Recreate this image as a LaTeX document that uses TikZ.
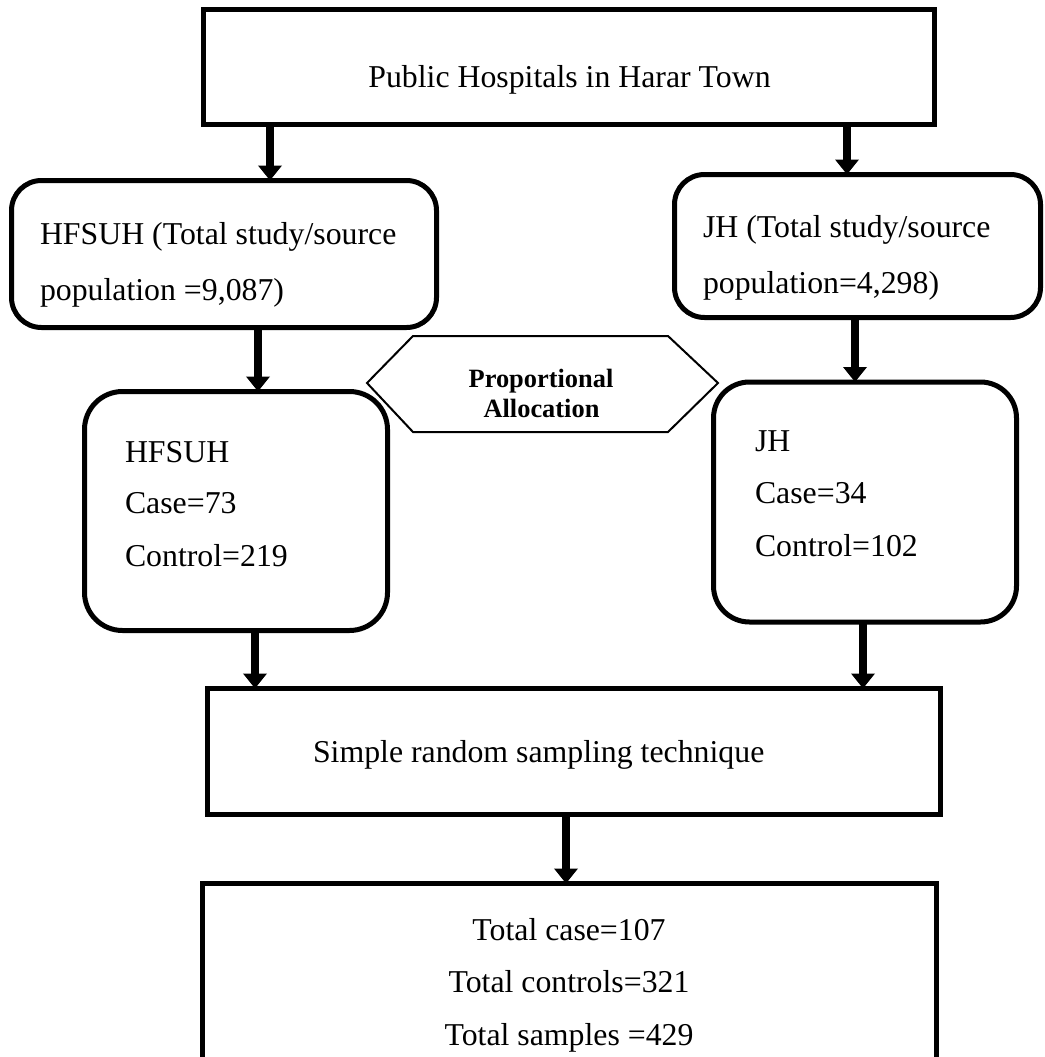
\documentclass[tikz,border=0pt]{standalone}
\usepackage{fontspec}
\setmainfont{Liberation Serif}
\usetikzlibrary{arrows.meta}
\begin{document}
\begin{tikzpicture}[x=1pt,y=-1pt,
  box/.style={draw=black, line width=5pt, inner sep=0pt, outer sep=0pt},
  rbox/.style={box, rounded corners=#1},
  txt/.style={inner sep=0pt, outer sep=0pt, font=\fontsize{31.8}{38}\selectfont},
  btxt/.style={inner sep=0pt, outer sep=0pt, font=\fontsize{26.4}{32}\selectfont\bfseries},
  arr/.style={line width=8pt, -{Triangle[width=23pt,length=15pt]}}]
\useasboundingbox (0,0) rectangle (1044,1057);
\clip (0,0) rectangle (1044,1057);
\fill[white] (0,0) rectangle (1044,1057);

% boxes
\node[box, minimum width=731pt, minimum height=115pt] (top) at (569,67) {};
\node[rbox=30pt, minimum width=425pt, minimum height=147pt] (hpop) at (224,254) {};
\node[rbox=30pt, minimum width=366pt, minimum height=143pt] (jpop) at (857.5,246) {};
\node[rbox=38pt, minimum width=303pt, minimum height=239pt] (hcase) at (236,511) {};
\node[rbox=36pt, minimum width=303pt, minimum height=240pt] (jcase) at (865,502) {};
\node[box, minimum width=733pt, minimum height=126pt] (simple) at (574,751.5) {};
\node[box, minimum width=734pt, minimum height=264pt] (total) at (569.5,1015.5) {};

% hexagon
\draw[line width=2pt, line join=miter] (367,383) -- (413,336) -- (668,336) -- (718,383) -- (668,432) -- (413,432) -- cycle;
\node[btxt, anchor=base] (al1) at (541,387) {Proportional};
\node[btxt, anchor=base] (al2) at (541.5,417) {Allocation};

% texts
\node[txt, anchor=base] (t0) at (569.5,87) {Public Hospitals in Harar Town};
\node[txt, anchor=base west] (hp1) at (40,244) {HFSUH (Total study/source};
\node[txt, anchor=base west] (hp2) at (40,300) {population =9,087)};
\node[txt, anchor=base west] (jp1) at (703,237) {JH (Total study/source};
\node[txt, anchor=base west] (jp2) at (703,293) {population=4,298)};
\node[txt, anchor=base west] (hc1) at (125,462) {HFSUH};
\node[txt, anchor=base west] (hc2) at (125,513) {Case=73};
\node[txt, anchor=base west] (hc3) at (125,566) {Control=219};
\node[txt, anchor=base west] (jc1) at (755,451) {JH};
\node[txt, anchor=base west] (jc2) at (755,503) {Case=34};
\node[txt, anchor=base west] (jc3) at (755,556) {Control=102};
\node[txt, anchor=base west] (s1) at (313,762) {Simple random sampling technique};
\node[txt, anchor=base] (b1) at (569,940) {Total case=107};
\node[txt, anchor=base] (b2) at (569,992) {Total controls=321};
\node[txt, anchor=base] (b3) at (569,1045) {Total samples =429};

% arrows
\coordinate (c1) at (270,0);
\coordinate (c2) at (847,0);
\coordinate (c3) at (258,0);
\coordinate (c4) at (855,0);
\coordinate (c5) at (255,0);
\coordinate (c6) at (863,0);
\coordinate (c7) at (566,0);
\draw[arr] (top.south -| c1) -- (hpop.north -| c1);
\draw[arr] (top.south -| c2) -- (jpop.north -| c2);
\draw[arr] (hpop.south -| c3) -- (hcase.north -| c3);
\draw[arr] (jpop.south -| c4) -- (jcase.north -| c4);
\draw[arr] (hcase.south -| c5) -- (simple.north -| c5);
\draw[arr] (jcase.south -| c6) -- (simple.north -| c6);
\draw[arr] (simple.south -| c7) -- (total.north -| c7);
\end{tikzpicture}
\end{document}
